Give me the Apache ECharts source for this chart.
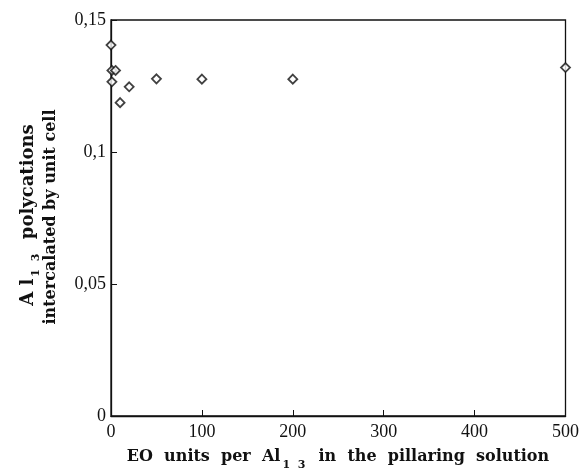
<!DOCTYPE html>
<html>
<head>
<meta charset="utf-8">
<script src="https://cdn.jsdelivr.net/npm/echarts@6/dist/echarts.min.js"></script>
<style>
  html, body { margin: 0; padding: 0; background: #fff; }
  #chart { width: 582px; height: 474px; }
</style>
</head>
<body>
<div id="chart"></div>
<script>
// EO units per Al13 (x) vs Al13 polycations per unit cell (y)
var eoUnits = [0, 1, 5, 1, 10, 20, 50, 100, 200, 500];
var al13Amount = [0.1405, 0.1309, 0.1309, 0.1266, 0.1187, 0.1247, 0.1277, 0.1276, 0.1276, 0.1320];
var xTicks = [0, 100, 200, 300, 400, 500];
var yTicks = ['0', '0,05', '0,1', '0,15'];

var points = [];
for (var i = 0; i < eoUnits.length; i++) {
    points.push([eoUnits[i], al13Amount[i]]);
}

var serif = '"Liberation Serif", "DejaVu Serif", serif';
var wide = '"DejaVu Serif", serif';
var chart = echarts.init(document.getElementById('chart'));

var titleRich = {
    t: { fontFamily: wide, fontWeight: 'bold', fontSize: 16, fill: '#111' },
    b: { fontFamily: wide, fontWeight: 'bold', fontSize: 18, fill: '#111' },
    s: { fontFamily: wide, fontWeight: 'bold', fontSize: 11, fill: '#111', padding: [16, 2, 0, 2] }
};

var option = {
    animation: false,
    backgroundColor: '#fff',
    grid: {
        left: 111, right: 15, top: 20, bottom: 58,
        show: true, borderColor: '#111', borderWidth: 1.3, backgroundColor: 'transparent'
    },
    xAxis: {
        type: 'value', min: 0, max: 500, interval: 100,
        axisLine: { show: true, lineStyle: { color: '#111', width: 1.3 } },
        axisTick: { show: true, inside: true, length: 6, lineStyle: { color: '#111' } },
        splitLine: { show: false },
        axisLabel: {
            color: '#111', fontFamily: serif, fontSize: 18, margin: 7,
            formatter: function (v) { return xTicks.indexOf(v) > -1 ? String(v) : ''; }
        }
    },
    yAxis: {
        type: 'value', min: 0, max: 0.15, interval: 0.05,
        axisLine: { show: true, lineStyle: { color: '#111', width: 1.3 } },
        axisTick: { show: true, inside: true, length: 6, lineStyle: { color: '#111' } },
        splitLine: { show: false },
        axisLabel: {
            color: '#111', fontFamily: serif, fontSize: 18, margin: 5,
            formatter: function (v) { return yTicks[Math.round(v / 0.05)]; }
        }
    },
    series: [{
        type: 'scatter',
        data: points,
        symbol: 'path://M0,-1L1,0L0,1L-1,0Z',
        symbolSize: 9,
        itemStyle: { color: '#fff', borderColor: '#111', borderWidth: 1.8 }
    }],
    graphic: [
        {
            type: 'text', x: 338, y: 457,
            style: {
                text: '{t|EO  units  per  Al}{s|1  3}{t|  in  the  pillaring  solution}',
                align: 'center', verticalAlign: 'middle',
                rich: titleRich
            }
        },
        {
            type: 'text',
            x: 28, y: 215, rotation: Math.PI / 2,
            style: {
                text: '{b|A l}{s|1  3}{b|  polycations}',
                align: 'center', verticalAlign: 'middle',
                rich: titleRich
            }
        },
        {
            type: 'text',
            x: 51, y: 217, rotation: Math.PI / 2,
            style: {
                text: '{t|intercalated by unit cell}',
                align: 'center', verticalAlign: 'middle',
                rich: titleRich
            }
        }
    ]
};
chart.setOption(option);
</script>
</body>
</html>
